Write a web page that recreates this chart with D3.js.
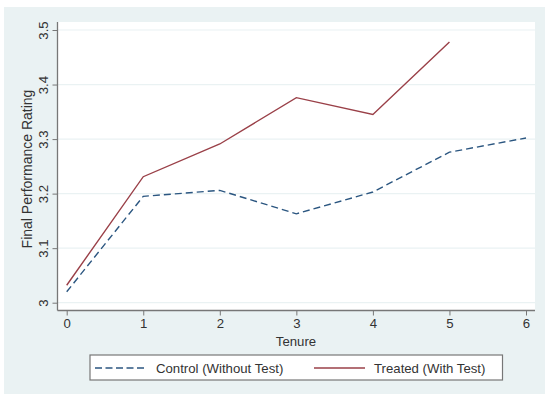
<!DOCTYPE html>
<html><head><meta charset="utf-8">
<script src="https://cdn.jsdelivr.net/npm/d3@7"></script>
<style>body{margin:0;background:#fff}svg{display:block;font-family:"Liberation Sans",Arial,sans-serif}</style>
</head><body><svg id="c" width="545" height="394"></svg>
<script>
const tenure = [0,1,2,3,4,5,6];
const control = [3.020,3.195,3.206,3.163,3.203,3.276,3.302];
const treatedTenure = [0,1,2,3,4,5];
const treated = [3.032,3.231,3.291,3.376,3.345,3.478];
const yTicks = [3,3.1,3.2,3.3,3.4,3.5];
const xTicks = [0,1,2,3,4,5,6];
const seriesNames = ["Control (Without Test)","Treated (With Test)"];

const svg = d3.select("#c");
svg.append("rect").attr("x",4).attr("y",7).attr("width",541).attr("height",387).attr("fill","#eaf2f3");
const L=57.5,R=535,T=22,B=310.5;
svg.append("rect").attr("x",L).attr("y",T).attr("width",R-L).attr("height",B-T).attr("fill","#fff");
const x = d3.scaleLinear().domain([0,6]).range([66.7,526]);
const y = d3.scaleLinear().domain([3,3.5]).range([302.7,30]);
const FS = 13.2;

// grid
svg.append("g").selectAll("line").data(yTicks).join("line")
  .attr("x1",L).attr("x2",R).attr("y1",d=>y(d)).attr("y2",d=>y(d))
  .attr("stroke","#eaf2f3").attr("stroke-width",1.2);

// axes
const ya = svg.append("g").attr("transform",`translate(${L},0)`)
  .call(d3.axisLeft(y).tickValues(yTicks).tickFormat(d3.format("")).tickSize(5).tickPadding(4));
ya.select(".domain").attr("d",`M0,${T}V${B}`);
ya.selectAll(".tick text").attr("transform","rotate(-90)").attr("text-anchor","middle")
  .attr("x",0).attr("y",-9.5).attr("dy","0");
const xa = svg.append("g").attr("transform",`translate(0,${B})`)
  .call(d3.axisBottom(x).tickValues(xTicks).tickFormat(d3.format("d")).tickSize(5).tickPadding(3));
xa.select(".domain").attr("d",`M${L},0H${R}`);
[ya,xa].forEach(g=>{
  g.select(".domain").attr("stroke","#777").attr("stroke-width",1.3);
  g.selectAll(".tick line").attr("stroke","#777").attr("stroke-width",1);
  g.selectAll(".tick text").attr("fill","#333").attr("font-size",FS).attr("font-family","Liberation Sans, Arial, sans-serif");
});

svg.append("text").attr("x",296).attr("y",345.5).attr("text-anchor","middle")
  .attr("font-size",FS).attr("fill","#333").text("Tenure");
svg.append("text").attr("transform",`translate(32,169) rotate(-90)`).attr("text-anchor","middle")
  .attr("font-size",14).attr("fill","#333").text("Final Performance Rating");

const line = d3.line().x(d=>x(d[0])).y(d=>y(d[1]));
svg.append("path").datum(tenure.map((t,i)=>[t,control[i]])).attr("d",line)
  .attr("fill","none").attr("stroke","#2b5680").attr("stroke-width",1.4).attr("stroke-dasharray","7,4");
svg.append("path").datum(treatedTenure.map((t,i)=>[t,treated[i]])).attr("d",line)
  .attr("fill","none").attr("stroke","#9a4048").attr("stroke-width",1.4);

// legend
const lg = svg.append("g");
lg.append("rect").attr("x",90).attr("y",355).attr("width",412.5).attr("height",25)
  .attr("fill","#fff").attr("stroke","#777").attr("stroke-width",1.2);
lg.append("line").attr("x1",95).attr("x2",147).attr("y1",368).attr("y2",368)
  .attr("stroke","#2b5680").attr("stroke-width",1.4).attr("stroke-dasharray","7,3.5");
lg.append("text").attr("x",156).attr("y",373).attr("font-size",FS).attr("fill","#333").text(seriesNames[0]);
lg.append("line").attr("x1",314).attr("x2",365).attr("y1",368).attr("y2",368)
  .attr("stroke","#9a4048").attr("stroke-width",1.4);
lg.append("text").attr("x",374).attr("y",373).attr("font-size",FS).attr("fill","#333").text(seriesNames[1]);
</script></body></html>
